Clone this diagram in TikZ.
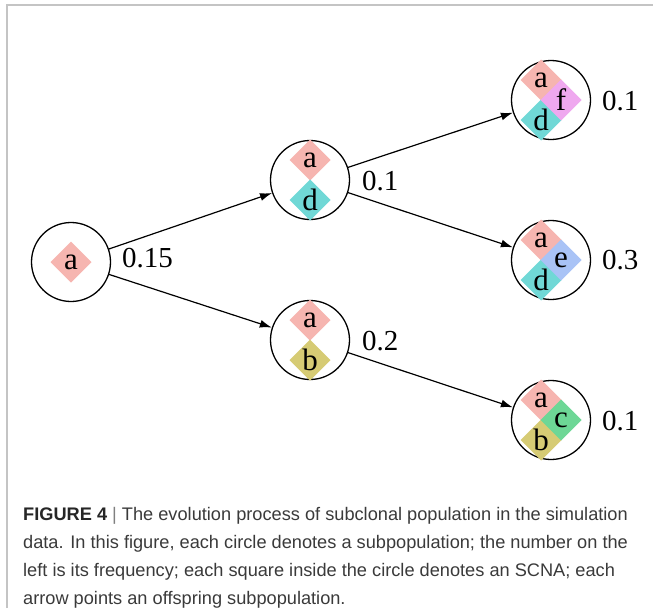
\documentclass[tikz,border=0pt]{standalone}
\usepackage{fontspec}
\setmainfont{Liberation Serif}
\newfontfamily\capfont{Liberation Sans}
\usetikzlibrary{shapes.geometric,arrows.meta}

% SCNA colours
\definecolor{scnaA}{HTML}{F6B5B0}
\definecolor{scnaB}{HTML}{D6CB74}
\definecolor{scnaC}{HTML}{6DD796}
\definecolor{scnaD}{HTML}{70D8D6}
\definecolor{scnaE}{HTML}{A9C3F6}
\definecolor{scnaF}{HTML}{EFA8EF}
\definecolor{framegray}{HTML}{C4C4C4}
\definecolor{captext}{HTML}{3A3A3A}

\begin{document}
\begin{tikzpicture}[x=1pt,y=-1pt,
  popu/.style={circle,draw=black,line width=1.3pt,minimum size=79pt,inner sep=0pt},
  scna/.style={diamond,minimum width=41pt,minimum height=41pt,inner sep=0pt,outer sep=0pt,
    fill=#1,font=\fontsize{31}{31}\selectfont},
  freq/.style={anchor=west,inner sep=0pt,font=\fontsize{29}{29}\selectfont},
  link/.style={line width=1.2pt,-{Latex[length=12pt,width=8pt]}},
  capline/.style={anchor=base west,inner sep=0pt,text=captext,
    font=\capfont\fontsize{18.2}{18.2}\selectfont}]
\useasboundingbox (0,0) rectangle (653,608);

% frame
\draw[framegray,line width=2pt] (7,608) -- (7,5) -- (653,5);

% subpopulations
\node[popu] (root) at (71,262) {};
\node[popu] (ad)   at (310,180) {};
\node[popu] (ab)   at (310,340) {};
\node[popu] (adf)  at (551,100) {};
\node[popu] (ade)  at (551,260) {};
\node[popu] (abc)  at (551,420) {};

% SCNAs
\node[scna=scnaA] (root-a) at (71,262) {a};

\node[scna=scnaA] (ad-a) at (310,160) {a};
\node[scna=scnaD] (ad-d) at (310,200) {d};

\node[scna=scnaA] (ab-a) at (310,320) {a};
\node[scna=scnaB] (ab-b) at (310,360) {b};

\node[scna=scnaA] (adf-a) at (541,80)  {a};
\node[scna=scnaD] (adf-d) at (541,120) {d};
\node[scna=scnaF] (adf-f) at (561,100) {f};

\node[scna=scnaA] (ade-a) at (541,240) {a};
\node[scna=scnaD] (ade-d) at (541,280) {d};
\node[scna=scnaE] (ade-e) at (561,260) {e};

\node[scna=scnaA] (abc-a) at (541,400) {a};
\node[scna=scnaB] (abc-b) at (541,440) {b};
\node[scna=scnaC] (abc-c) at (561,420) {c};

% frequencies
\node[freq] (f-root) at (122,258) {0.15};
\node[freq] (f-ad)   at (362,181) {0.1};
\node[freq] (f-ab)   at (362,341) {0.2};
\node[freq] (f-adf)  at (602,101) {0.1};
\node[freq] (f-ade)  at (602,260) {0.3};
\node[freq] (f-abc)  at (602,421) {0.1};

% offspring links
\draw[link] (root) -- (ad);
\draw[link] (root) -- (ab);
\draw[link] (ad) -- (adf);
\draw[link] (ad) -- (ade);
\draw[link] (ab) -- (abc);

% caption
\node[capline] (cap1) at (23,520) {{\bfseries\color{black!85}FIGURE 4} {\color{black!50}|} The evolution process of subclonal population in the simulation};
\node[capline] (cap2) at (23,548) {data. In this figure, each circle denotes a subpopulation; the number on the};
\node[capline] (cap3) at (23,576) {left is its frequency; each square inside the circle denotes an SCNA; each};
\node[capline] (cap4) at (23,604) {arrow points an offspring subpopulation.};
\end{tikzpicture}
\end{document}
